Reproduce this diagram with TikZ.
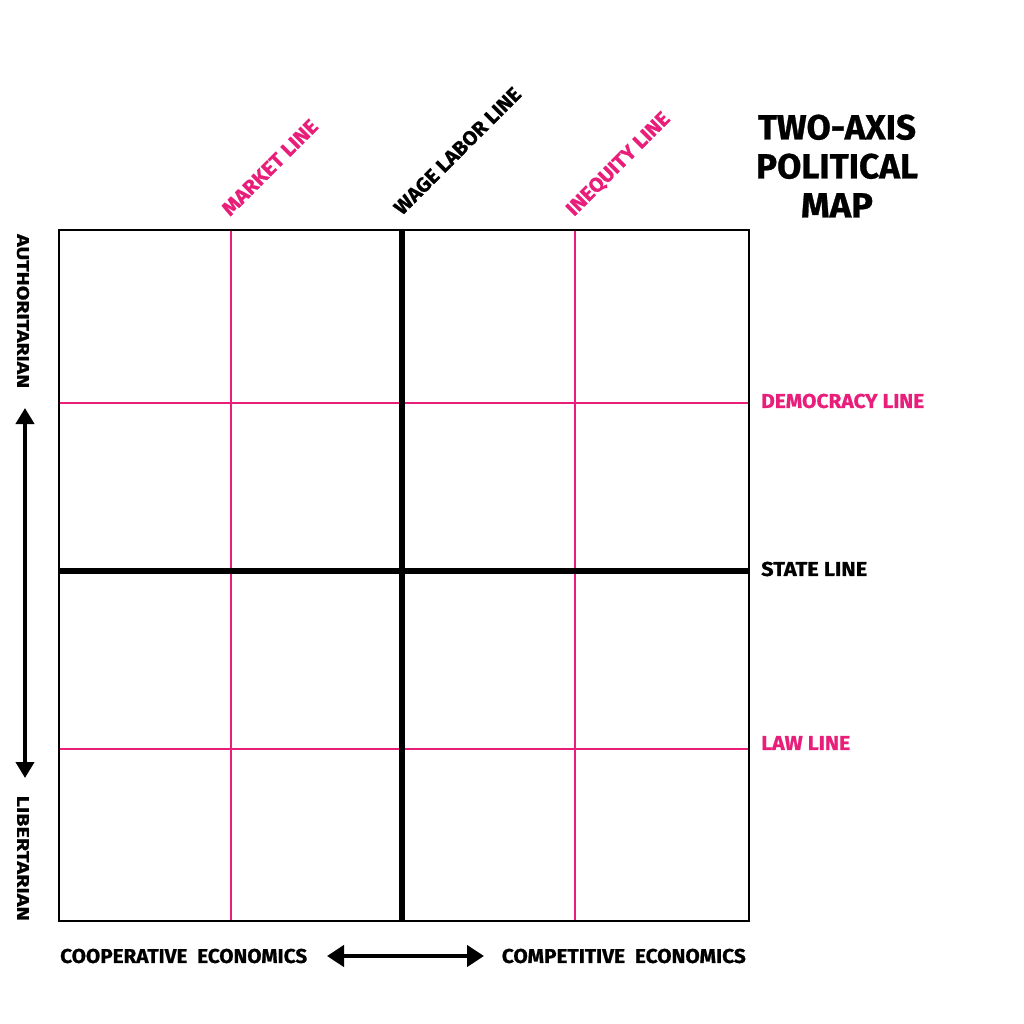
\documentclass[tikz,border=0pt]{standalone}
\usepackage{fontspec}
\setmainfont{Fira Sans}[BoldFeatures={FakeBold=0.8}]
\usetikzlibrary{arrows.meta}
\definecolor{pinkline}{RGB}{233,30,122}
\newcommand{\fitw}[2]{\resizebox{#1}{\height}{#2}}
\begin{document}
\begin{tikzpicture}[x=1pt,y=-1pt,
  lbl/.style={inner sep=0pt,font=\bfseries\fontsize{20}{20}\selectfont},
  pinklbl/.style={lbl,text=pinkline},
  sidelbl/.style={inner sep=0pt,font=\bfseries\fontsize{17}{17}\selectfont,rotate=-90},
  botlbl/.style={inner sep=0pt,font=\bfseries\fontsize{20}{20}\selectfont},
  thin pink/.style={draw=pinkline,line width=1.5pt},
  thick black/.style={draw=black,line width=6.5pt},
  varrow/.style={draw=black,line width=4pt,{Triangle[length=16pt,width=18pt]}-{Triangle[length=16pt,width=18pt]}},
  harrow/.style={draw=black,line width=4.5pt,{Triangle[length=17pt,width=21pt]}-{Triangle[length=17pt,width=21pt]}}]
\useasboundingbox (0,0) rectangle (1024,1024);
\fill[white] (0,0) rectangle (1024,1024);
% grid lines
\draw[thin pink] (231,230) -- (231,921);
\draw[thin pink] (575,230) -- (575,921);
\draw[thin pink] (59,403) -- (749,403);
\draw[thin pink] (59,749) -- (749,749);
\draw[thick black] (402,230) -- (402,921);
\draw[thick black] (59,571) -- (749,571);
\draw[line width=2pt] (59,230) rectangle (749,921);
% title
\node[inner sep=0pt,align=center,font=\bfseries\fontsize{35}{39}\selectfont] (title) at (837,166) {\fitw{158pt}{TWO-AXIS}\\\fitw{162pt}{POLITICAL}\\\fitw{72pt}{MAP}};
% top labels
\node[pinklbl,rotate=45,anchor=base west] (market) at (230,217) {\fitw{126pt}{MARKET LINE}};
\node[lbl,rotate=45,anchor=base west] (wage) at (402,216) {\fitw{170pt}{WAGE LABOR LINE}};
\node[pinklbl,rotate=45,anchor=base west] (ineq) at (574,217) {\fitw{137pt}{INEQUITY LINE}};
% right labels
\node[pinklbl,anchor=west] (demo) at (761,401) {\fitw{163pt}{DEMOCRACY LINE}};
\node[lbl,anchor=west] (state) at (761,569) {\fitw{106pt}{STATE LINE}};
\node[pinklbl,anchor=west] (law) at (761,743) {\fitw{89pt}{LAW LINE}};
% left labels
\node[sidelbl,anchor=west] (auth) at (23,234) {\fitw{154pt}{AUTHORITARIAN}};
\node[sidelbl,anchor=east] (lib) at (23,921) {\fitw{125pt}{LIBERTARIAN}};
% bottom labels
\node[botlbl,anchor=west] (coop) at (60,956) {\fitw{247pt}{COOPERATIVE\ \ ECONOMICS}};
\node[botlbl,anchor=east] (comp) at (746,956) {\fitw{244pt}{COMPETITIVE\ \ ECONOMICS}};
% arrows
\coordinate (vtop) at (25,408);
\coordinate (vbot) at (25,778);
\coordinate (hl) at (327,956);
\coordinate (hr) at (484,956);
\draw[varrow] (vtop) -- (vbot);
\draw[harrow] (hl) -- (hr);
\end{tikzpicture}
\end{document}
